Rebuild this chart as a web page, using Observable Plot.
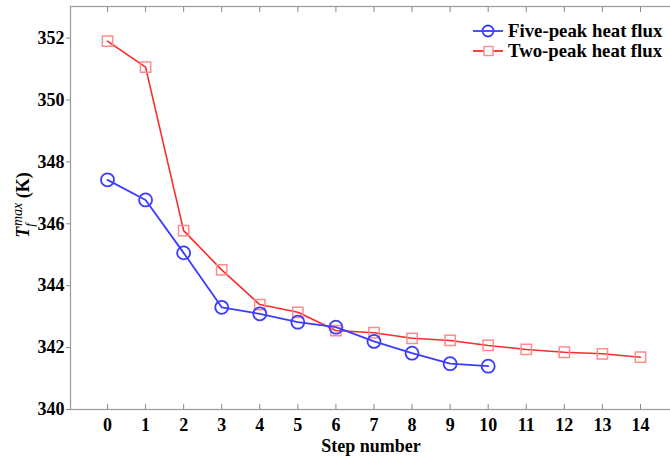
<!DOCTYPE html>
<html>
<head>
<meta charset="utf-8">
<script src="https://cdn.jsdelivr.net/npm/d3@7"></script>
<script src="https://cdn.jsdelivr.net/npm/@observablehq/plot@0.6"></script>
<style>
  body { margin: 0; background: #fff; }
  #chart { width: 670px; height: 459px; overflow: hidden; }
</style>
</head>
<body>
<div id="chart"></div>
<script>
const fiveSteps = [0, 1, 2, 3, 4, 5, 6, 7, 8, 9, 10];
const fiveValues = [347.42, 346.77, 345.06, 343.30, 343.09, 342.82, 342.66, 342.20, 341.82, 341.48, 341.40];
const twoSteps = [0, 1, 2, 3, 4, 5, 6, 7, 8, 9, 10, 11, 12, 13, 14];
const twoValues = [351.90, 351.06, 345.78, 344.51, 343.39, 343.14, 342.55, 342.48, 342.30, 342.23, 342.07, 341.94, 341.85, 341.80, 341.69];
const seriesNames = ["Five-peak heat flux", "Two-peak heat flux"];
const xTicks = [0, 1, 2, 3, 4, 5, 6, 7, 8, 9, 10, 11, 12, 13, 14];
const yTicks = [340, 342, 344, 346, 348, 350, 352];
const xLabel = "Step number";

const blue = "#3c3cff";
const red = "#ff2a2a";
const redMarker = "#ff8c8c";
const font = "'Liberation Serif', 'Times New Roman', serif";

const five = fiveSteps.map((s, i) => ({step: s, value: fiveValues[i]}));
const two = twoSteps.map((s, i) => ({step: s, value: twoValues[i]}));

const plot = Plot.plot({
  width: 670,
  height: 459,
  marginLeft: 70,
  marginRight: -1,
  marginTop: 6,
  marginBottom: 50,
  style: {fontFamily: font, fontSize: "18px", fontWeight: "bold", color: "#000", background: "#fff"},
  x: {domain: [-0.972, 14.815]},
  y: {domain: [340, 353.02]},
  marks: [
    Plot.frame({stroke: "#999", strokeWidth: 1.2}),
    Plot.axisX({anchor: "bottom", ticks: xTicks, tickSize: -5, tickPadding: 14, stroke: "#888", label: xLabel, labelAnchor: "center", labelArrow: "none", labelOffset: 42, tickFormat: d => String(d)}),
    Plot.axisX({anchor: "top", ticks: xTicks, tickSize: -5, stroke: "#888", tickFormat: () => "", label: null}),
    Plot.axisY({ticks: yTicks, tickSize: 4, tickPadding: 2, stroke: "#888", label: null}),
    Plot.line(two, {x: "step", y: "value", stroke: red, strokeWidth: 1.6}),
    Plot.dot(two, {x: "step", y: "value", symbol: "square", r: 5.8, stroke: redMarker, strokeWidth: 1.5, fill: "none"}),
    Plot.line(five, {x: "step", y: "value", stroke: blue, strokeWidth: 1.8}),
    Plot.dot(five, {x: "step", y: "value", r: 6.5, stroke: blue, strokeWidth: 1.8, fill: "none"})
  ]
});

document.getElementById("chart").appendChild(plot);

const svg = d3.select(plot);

// Y-axis label with italic T, subscript f, superscript max
const yl = svg.append("text")
  .attr("transform", "translate(29,205) rotate(-90)")
  .attr("text-anchor", "middle")
  .attr("font-family", font)
  .attr("font-size", 18)
  .attr("font-weight", "bold")
  .attr("fill", "#000");
yl.append("tspan").attr("font-style", "italic").text("T");
yl.append("tspan").attr("font-style", "italic").attr("font-weight", "normal").attr("font-size", 13).attr("dy", 5).text("f");
yl.append("tspan").attr("font-style", "italic").attr("font-weight", "normal").attr("font-size", 14).attr("dx", -3).attr("dy", -12).text("max");
yl.append("tspan").attr("dy", 7).text(" (K)");

// Legend
const legend = svg.append("g").attr("font-family", font).attr("font-size", 18.8).attr("font-weight", "bold");
const rows = [
  {name: seriesNames[0], color: blue, marker: "circle", y: 31},
  {name: seriesNames[1], color: red, marker: "square", y: 51}
];
for (const r of rows) {
  legend.append("line").attr("x1", 473).attr("x2", 503).attr("y1", r.y).attr("y2", r.y)
    .attr("stroke", r.color).attr("stroke-width", 1.8);
  if (r.marker === "circle") {
    legend.append("circle").attr("cx", 488).attr("cy", r.y).attr("r", 5.5)
      .attr("fill", "none").attr("stroke", r.color).attr("stroke-width", 1.8);
  } else {
    legend.append("rect").attr("x", 484).attr("y", r.y - 4.5).attr("width", 9).attr("height", 9)
      .attr("fill", "#fff").attr("stroke", redMarker).attr("stroke-width", 1.4);
  }
  legend.append("text").attr("x", 508).attr("y", r.y + 6).attr("text-anchor", "start").attr("fill", "#000").text(r.name);
}
</script>
</body>
</html>
